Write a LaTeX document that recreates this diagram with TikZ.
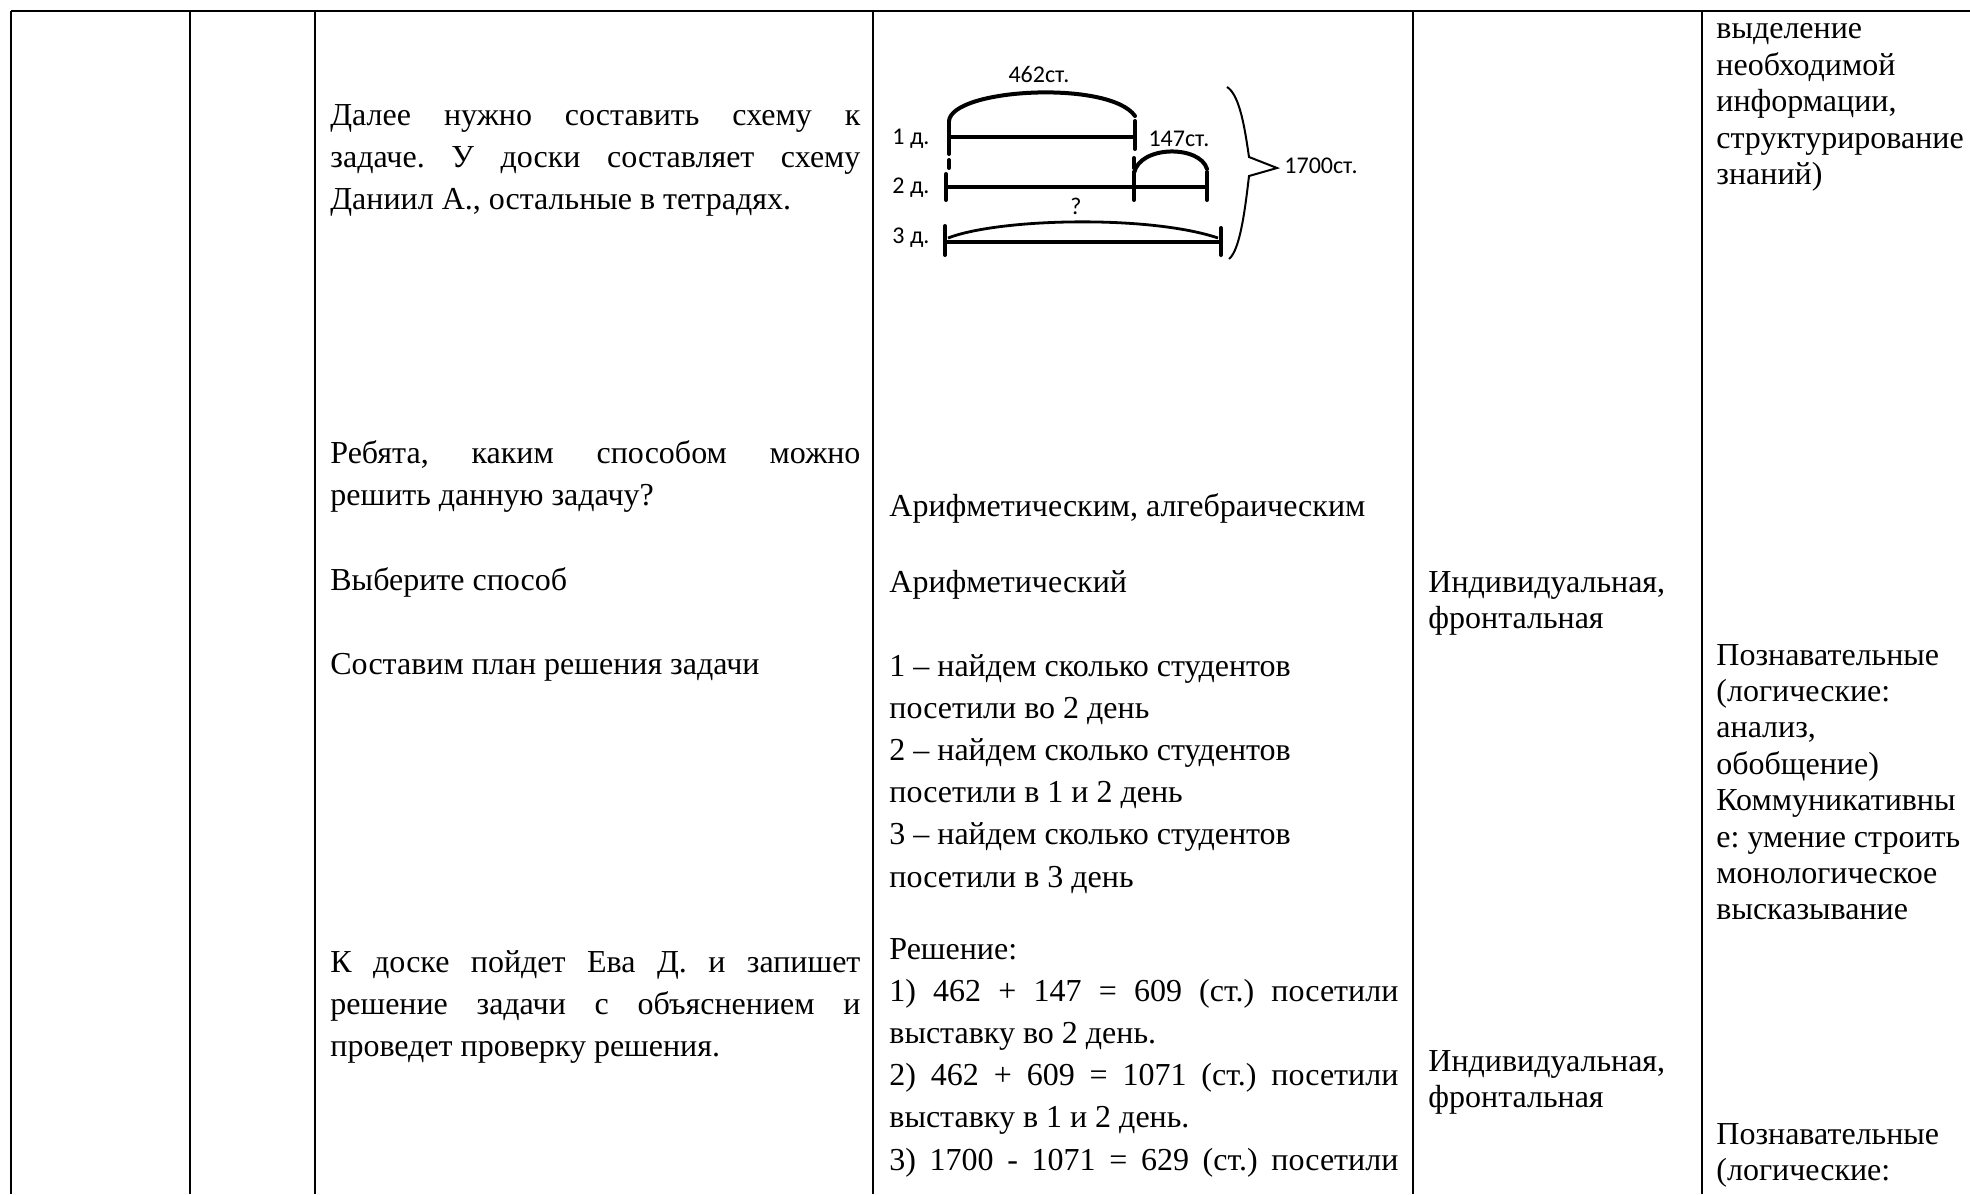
\documentclass[tikz,border=0pt]{standalone}
\usepackage{fontspec}
\setmainfont{Liberation Serif}
\newfontfamily\sketchfont{Carlito}
\usepackage{tikz}
\frenchspacing
\newcommand{\spreadline}[2]{\makebox[#1][s]{#2}}
\newcommand{\cellpar}[1]{\begin{tabular}[t]{@{}l@{}}#1\end{tabular}}
\tikzset{
	gridline/.style={line width=1.3pt},
	celltext/.style={anchor=base west, inner sep=0pt, font=\fontsize{16}{21.1}\selectfont},
	tighttext/.style={celltext, font=\fontsize{16}{18.2}\selectfont},
	sketchline/.style={line width=2pt, line cap=round},
	sketchlabel/.style={inner sep=0pt, font=\sketchfont\fontsize{12}{14}\selectfont},
}

\begin{document}
\begin{tikzpicture}[x=0.5pt, y=-0.5pt]
			%%%%% START %%%%%
			\useasboundingbox (0, 0) rectangle (1970, 1194);
			
			% table rules
			\draw[gridline] (11, 11) -- (1970, 11);
			\draw[gridline] (11, 11) -- (11, 1194);
			\draw[gridline] (190, 11) -- (190, 1194);
			\draw[gridline] (315, 11) -- (315, 1194);
			\draw[gridline] (873, 11) -- (873, 1194);
			\draw[gridline] (1413, 11) -- (1413, 1194);
			\draw[gridline] (1702, 11) -- (1702, 1194);
			
			% teacher column
			\node[celltext] (plan) at (330, 125) {\cellpar{\spreadline{265pt}{Далее нужно составить схему к}\\
				\spreadline{265pt}{задаче. У доски составляет схему}\\
				Даниил А., остальные в тетрадях.}};
			\node[celltext] (ask) at (330, 463) {\cellpar{\spreadline{265pt}{Ребята, каким способом можно}\\
				решить данную задачу?}};
			\node[celltext] (choose) at (330, 590) {Выберите способ};
			\node[celltext] (steps) at (330, 674) {Составим план решения задачи};
			\node[celltext] (board) at (330, 972) {\cellpar{\spreadline{265pt}{К доске пойдет Ева Д. и запишет}\\
				\spreadline{265pt}{решение задачи с объяснением и}\\
				проведет проверку решения.}};
			
			% pupils column: the scheme
			\node[sketchlabel] (day1) at (911, 139) {1 д.};
			\node[sketchlabel] (day2) at (911, 188) {2 д.};
			\node[sketchlabel] (day3) at (911, 238) {3 д.};
			\coordinate (a1) at (949, 137);
			\coordinate (b1) at (1135, 137);
			\coordinate (a2) at (946, 187);
			\coordinate (m2) at (1134, 187);
			\coordinate (b2) at (1207, 187);
			\coordinate (a3) at (945, 242);
			\coordinate (b3) at (1221, 242);
			
			\draw[sketchline] (a1) -- (b1);
			\draw[sketchline] (949, 121) -- (949, 154);
			\draw[sketchline] (1135, 121) -- (1135, 149);
			\draw[sketchline] (949, 160) -- (949, 168);
			\draw[sketchline] (1134, 158) -- (1134, 168);
			\draw[sketchline] (949, 121) .. controls (952, 88) and (1110, 80) .. (1135, 116);
			\node[sketchlabel] (n462) at (1039, 74) {462ст.};
			
			\draw[sketchline] (a2) -- (b2);
			\draw[sketchline] (946, 174) -- (946, 200);
			\draw[sketchline] (1134, 172) -- (1134, 200);
			\draw[sketchline] (1207, 172) -- (1207, 200);
			\draw[sketchline] (1134, 173) .. controls (1140, 145) and (1200, 145) .. (1207, 169);
			\node[sketchlabel] (n147) at (1179, 139) {147ст.};
			
			\draw[sketchline] (a3) -- (b3);
			\draw[sketchline] (945, 226) -- (945, 255);
			\draw[sketchline] (1221, 228) -- (1221, 255);
			\draw[line width=1.4pt] (948, 238) .. controls (1000, 218) and (1150, 215) .. (1218, 238);
			\node[sketchlabel] (nq) at (1076, 206) {?};
			
			\draw[line width=1pt] (1227, 87) .. controls (1240, 95) and (1245, 130) .. (1249, 157) -- (1277, 168)
				-- (1249, 176) .. controls (1245, 210) and (1240, 250) .. (1229, 259);
			\node[sketchlabel, anchor=west] (n1700) at (1284, 166) {1700ст.};
			
			% pupils column: answers
			\node[celltext] (way) at (889, 516) {Арифметическим, алгебраическим};
			\node[celltext] (arith) at (889, 592) {Арифметический};
			\node[celltext] (stages) at (889, 676) {\cellpar{1 – найдем сколько студентов\\
				посетили во 2 день\\
				2 – найдем сколько студентов\\
				посетили в 1 и 2 день\\
				3 – найдем сколько студентов\\
				посетили в 3 день}};
			\node[celltext] (solve) at (889, 959) {\cellpar{Решение:\\
				\spreadline{254.5pt}{1) 462 + 147 = 609 (ст.) посетили}\\
				выставку во 2 день.\\
				\spreadline{254.5pt}{2) 462 + 609 = 1071 (ст.) посетили}\\
				выставку в 1 и 2 день.\\
				\spreadline{254.5pt}{3) 1700 - 1071 = 629 (ст.) посетили}}};
			
			% form of work
			\node[tighttext] (form1) at (1428, 592) {\cellpar{Индивидуальная,\\фронтальная}};
			\node[tighttext] (form2) at (1428, 1071) {\cellpar{Индивидуальная,\\фронтальная}};
			
			% learning actions
			\node[tighttext] (uud1) at (1716, 39) {\cellpar{выделение\\необходимой\\информации,\\структурирование\\знаний)}};
			\node[tighttext] (uud2) at (1716, 665) {\cellpar{Познавательные\\(логические:\\анализ,\\обобщение)\\Коммуникативны\\е: умение строить\\монологическое\\высказывание}};
			\node[tighttext] (uud3) at (1716, 1144) {\cellpar{Познавательные\\(логические:}};
			
			%%%%% END %%%%%
\end{tikzpicture}
\end{document}
